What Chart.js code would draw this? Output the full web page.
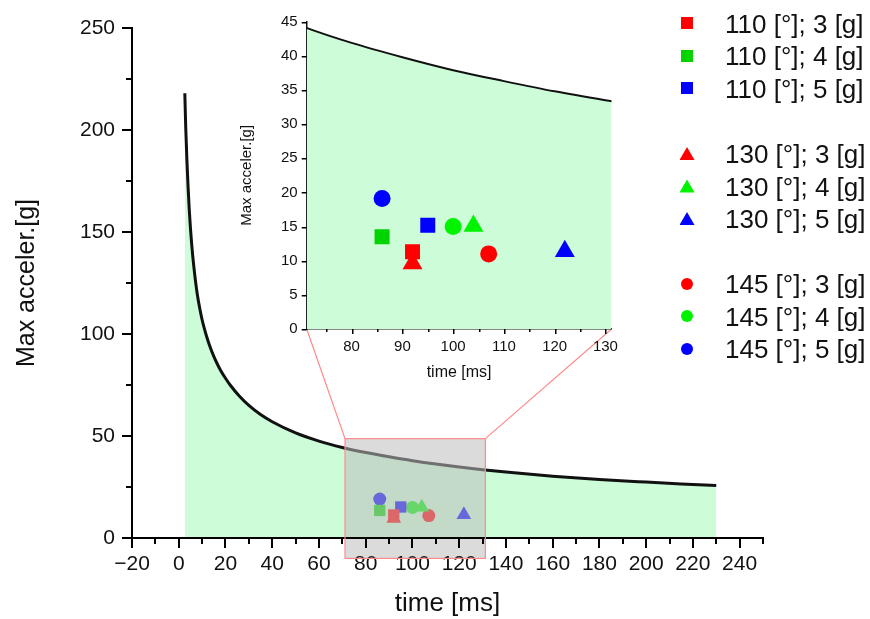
<!DOCTYPE html>
<html><head><meta charset="utf-8">
<script src="https://cdn.jsdelivr.net/npm/chart.js@4.4.1/dist/chart.umd.min.js"></script>
<style>
html,body{margin:0;padding:0;background:#fff;}
#wrap{position:relative;width:870px;height:619px;overflow:hidden;background:#fff;}
canvas{position:absolute;}
#main{left:0;top:0;}
#inset{left:238px;top:0;}
.row{position:absolute;left:660px;height:30px;display:flex;align-items:center;font-family:'Liberation Sans',Arial,sans-serif;font-size:26px;color:#111;white-space:nowrap;}
.mkbox{width:54px;height:30px;display:flex;align-items:center;justify-content:center;}
.txt{margin-left:11px;position:relative;top:1px;}
</style></head>
<body><div id="wrap">
<canvas id="main" width="870" height="619"></canvas>
<canvas id="inset" width="385" height="385"></canvas>
<div id="legend"></div>
</div>
<script>
// ---------- DATA ----------
const seriesNames = ['110 [°]; 3 [g]','110 [°]; 4 [g]','110 [°]; 5 [g]',
                     '130 [°]; 3 [g]','130 [°]; 4 [g]','130 [°]; 5 [g]',
                     '145 [°]; 3 [g]','145 [°]; 4 [g]','145 [°]; 5 [g]'];
const seriesTime  = [92, 86, 95, 92, 104, 122, 107, 100, 86];
const seriesAccel = [11.3, 13.5, 15.2, 9.6, 15.1, 11.4, 11.0, 15.0, 19.1];

const curveTime  = [2.6, 3, 3.5, 4, 4.5, 5, 5.5, 6, 6.5, 7, 8, 9, 10, 11, 12, 13, 15, 16.5, 18, 20, 22, 26, 30, 35, 40, 50, 60, 70, 80, 90, 100, 110, 120, 130, 140, 160, 180, 200, 215, 230];
const curveAccel = [218, 201, 185, 172, 161, 152, 144.5, 138, 132.5, 127.5, 119, 112.5, 107, 102.5, 98.5, 95, 89, 85.3, 82, 78.3, 75, 69.5, 65, 60.5, 57, 51.5, 47.5, 44.4, 41.9, 39.8, 37.9, 36.3, 34.8, 33.5, 32.3, 30.3, 28.7, 27.4, 26.5, 25.7];

const mainXRange  = [-20, 250];
const mainYRange  = [0, 250];
const zoomXRange  = [71.15, 131.2];
const zoomYRange  = [-10, 48.7];
const insetYRange = [0, 45];

// ---------- STYLES ----------
const seriesShape = ['rect','rect','rect','triangle','triangle','triangle','circle','circle','circle'];
const seriesColor = ['#ff0000','#00d400','#0000ff','#ff0000','#00f400','#0000ff','#ff0000','#00f400','#0000ff'];
const FILL = 'rgb(205,252,216)';
const FONT = "'Liberation Sans', Arial, sans-serif";
Chart.defaults.font.family = FONT;
Chart.defaults.color = '#111';
Chart.defaults.animation = false;

function pts(xs, ys){ return xs.map((x,i)=>({x:x, y:ys[i]})); }
function fmt(v){ return v < 0 ? '\u2212' + Math.abs(v) : String(v); }
function near(v, m){ const r = Math.abs(v % m); return r < 1e-6 || Math.abs(r - m) < 1e-6; }

function seriesDatasets(sizes){
  return seriesNames.map((name,i)=>({
    label:name, data:[{x:seriesTime[i], y:seriesAccel[i]}],
    pointStyle:seriesShape[i], pointRadius:sizes[seriesShape[i]], pointHoverRadius:sizes[seriesShape[i]],
    backgroundColor:seriesColor[i], borderColor:seriesColor[i], pointBorderWidth:0, borderWidth:0, showLine:false
  }));
}
function curveDataset(w){
  return {label:'curve', data:pts(curveTime, curveAccel), showLine:true, pointRadius:0, pointHoverRadius:0,
          borderColor:'#111', borderWidth:w, backgroundColor:FILL, fill:'origin', cubicInterpolationMode:'monotone'};
}
function drawTickMarks(chart, o){
  const ctx = chart.ctx, x = chart.scales.x, y = chart.scales.y;
  ctx.save(); ctx.strokeStyle = '#000'; ctx.lineWidth = o.w; ctx.beginPath();
  x.ticks.forEach(t=>{
    if (!near(t.value, o.xMinor)) return;
    const px = Math.round(x.getPixelForValue(t.value)) + 0.5*(o.w%2);
    const len = near(t.value, o.xMajor) ? o.major : o.minor;
    ctx.moveTo(px, x.top); ctx.lineTo(px, x.top + len);
  });
  y.ticks.forEach(t=>{
    if (!near(t.value, o.yMinor)) return;
    const py = Math.round(y.getPixelForValue(t.value)) + 0.5*(o.w%2);
    const len = near(t.value, o.yMajor) ? o.major : o.minor;
    ctx.moveTo(y.right, py); ctx.lineTo(y.right - len, py);
  });
  ctx.stroke(); ctx.restore();
}

// ---------- INSET ----------
const insetChart = new Chart(document.getElementById('inset'), {
  type:'scatter',
  data:{datasets:[...seriesDatasets({circle:8.5, rect:10.6, triangle:11.5}), curveDataset(2)]},
  options:{
    responsive:false, animation:false, events:[],
    layout:{padding:{left:0, right:9, top:21.7, bottom:0}},
    plugins:{legend:{display:false}, tooltip:{enabled:false}},
    scales:{
      x:{type:'linear', min:zoomXRange[0], max:zoomXRange[1],
         afterFit(s){ s.height = 56; s.paddingLeft = 0; s.paddingRight = 0; },
         grid:{display:true, drawOnChartArea:false, drawTicks:false},
         border:{display:true, color:'#111', width:1.5},
         ticks:{stepSize:5, includeBounds:false, autoSkip:false, maxRotation:0, padding:9, font:{size:15}, color:'#111',
                callback:v=> near(v,10) ? String(Math.round(v)) : ''},
         title:{display:true, text:'time [ms]', font:{size:16}, color:'#111', padding:{top:0, bottom:3}}},
      y:{type:'linear', min:insetYRange[0], max:insetYRange[1],
         afterFit(s){ s.width = 68.7; s.paddingTop = 0; s.paddingBottom = 0; },
         grid:{display:true, drawOnChartArea:false, drawTicks:false},
         border:{display:true, color:'#111', width:1.5},
         ticks:{stepSize:5, autoSkip:false, padding:9, font:{size:15}, color:'#111'},
         title:{display:true, text:'Max acceler.[g]', font:{size:15}, color:'#111', padding:{top:0, bottom:0}}}
    }
  },
  plugins:[{id:'insetTicks', afterDraw(c){ drawTickMarks(c, {w:1.5, xMinor:5, xMajor:10, yMinor:5, yMajor:5, major:5, minor:3}); }}]
});

// ---------- MAIN ----------
const mainChart = new Chart(document.getElementById('main'), {
  type:'scatter',
  data:{datasets:[...seriesDatasets({circle:6.5, rect:8, triangle:8.5}), curveDataset(3)]},
  options:{
    responsive:false, animation:false, events:[],
    layout:{padding:{left:0, right:107, top:28, bottom:0}},
    plugins:{legend:{display:false}, tooltip:{enabled:false}},
    scales:{
      x:{type:'linear', min:mainXRange[0], max:mainXRange[1],
         afterFit(s){ s.height = 81; s.paddingLeft = 0; s.paddingRight = 0; },
         grid:{display:true, drawOnChartArea:false, drawTicks:false},
         border:{display:true, color:'#000', width:2, z:1},
         ticks:{stepSize:10, autoSkip:false, maxRotation:0, padding:14, font:{size:21}, color:'#111', z:1,
                callback:v=> near(v,20) ? fmt(v) : ''},
         title:{display:true, text:'time [ms]', font:{size:26}, color:'#111', padding:{top:0, bottom:0}}},
      y:{type:'linear', min:mainYRange[0], max:mainYRange[1],
         afterFit(s){ s.width = 132; s.paddingTop = 0; s.paddingBottom = 0; },
         grid:{display:true, drawOnChartArea:false, drawTicks:false},
         border:{display:true, color:'#000', width:2, z:1},
         ticks:{stepSize:25, autoSkip:false, padding:17, font:{size:21}, color:'#111', z:1,
                callback:v=> near(v,50) ? String(v) : ''},
         title:{display:true, text:'Max acceler.[g]', font:{size:25}, color:'#111', padding:{top:12, bottom:0}}}
    }
  },
  plugins:[{
    id:'zoomBox',
    afterDatasetsDraw(c){
      const ctx = c.ctx, x = c.scales.x, y = c.scales.y;
      const l = x.getPixelForValue(zoomXRange[0]), r = x.getPixelForValue(zoomXRange[1]);
      const t = y.getPixelForValue(zoomYRange[1]), b = y.getPixelForValue(zoomYRange[0]);
      ctx.save();
      ctx.fillStyle = 'rgba(190,190,190,0.55)';
      ctx.fillRect(l, t, r - l, b - t);
      ctx.restore();
    },
    afterDraw(c){
      drawTickMarks(c, {w:2, xMinor:10, xMajor:20, yMinor:25, yMajor:50, major:10, minor:6});
      const ctx = c.ctx, x = c.scales.x, y = c.scales.y;
      const l = x.getPixelForValue(zoomXRange[0]), r = x.getPixelForValue(zoomXRange[1]);
      const t = y.getPixelForValue(zoomYRange[1]), b = y.getPixelForValue(zoomYRange[0]);
      const ca = insetChart.chartArea, ox = 238, oy = 0;
      ctx.save();
      ctx.strokeStyle = '#ff8a8a'; ctx.lineWidth = 1.2;
      ctx.strokeRect(l, t, r - l, b - t);
      ctx.beginPath();
      ctx.moveTo(l, t); ctx.lineTo(ox + ca.left, oy + ca.bottom);
      ctx.moveTo(r, t); ctx.lineTo(ox + ca.right, oy + ca.bottom);
      ctx.stroke();
      ctx.restore();
    }
  }]
});

// ---------- LEGEND (HTML) ----------
const legend = document.getElementById('legend');
seriesNames.forEach((name, i)=>{
  const g = Math.floor(i/3), k = i % 3;
  const center = 23.3 + g*130.3 + k*32.5;
  const row = document.createElement('div');
  row.className = 'row'; row.style.top = (center - 15) + 'px';
  const box = document.createElement('div'); box.className = 'mkbox';
  const mk = document.createElement('div');
  mk.style.background = seriesColor[i];
  if (seriesShape[i] === 'rect'){ mk.style.width = '12px'; mk.style.height = '12px'; }
  else if (seriesShape[i] === 'circle'){ mk.style.width = '12px'; mk.style.height = '12px'; mk.style.borderRadius = '50%'; }
  else { mk.style.width = '15px'; mk.style.height = '13px'; mk.style.clipPath = 'polygon(50% 0, 100% 100%, 0 100%)'; }
  box.appendChild(mk);
  const tx = document.createElement('span'); tx.className = 'txt'; tx.textContent = name;
  row.appendChild(box); row.appendChild(tx);
  legend.appendChild(row);
});
</script>
</body></html>
